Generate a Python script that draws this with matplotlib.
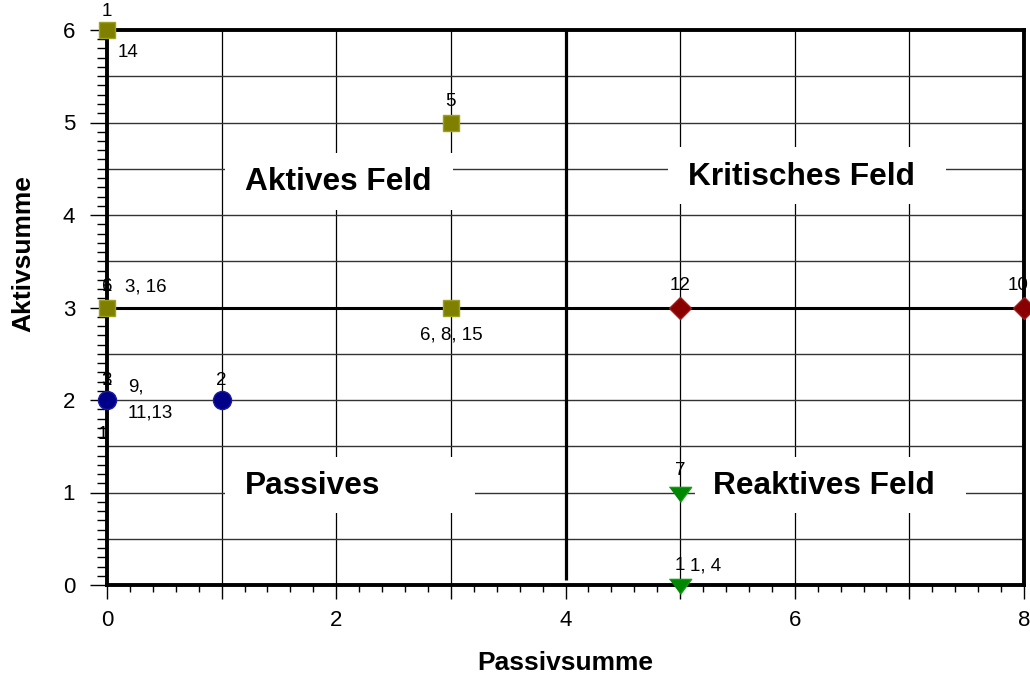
import matplotlib
matplotlib.use('Agg')
import matplotlib.pyplot as plt
import numpy as np
from matplotlib.ticker import MultipleLocator, FuncFormatter
from matplotlib.patches import Rectangle

plt.rcParams['font.family'] = ['Liberation Sans', 'DejaVu Sans']

# ---------------- data ----------------
olive_x = [0, 3, 0, 3]
olive_y = [6, 5, 3, 3]
blue_x = [0, 1]
blue_y = [2, 2]
red_x = [5, 8]
red_y = [3, 3]
green_x = [5, 5]
green_y = [1, 0]

# point labels: (text, x, y)
point_labels = [
    ("14", 0, 6), ("1", 0, 6),
    ("5", 3, 5),
    ("3, 16", 0, 3), ("1", 0, 3), ("6", 0, 3),
    ("6, 8, 15", 3, 3),
    ("9,", 0, 2), ("11,13", 0, 2), ("1", 0, 2), ("3", 0, 2), ("1", 0, 2),
    ("2", 1, 2),
    ("12", 5, 3), ("10", 8, 3),
    ("7", 5, 1),
    ("1, 4", 5, 0), ("1", 5, 0),
]
quadrant_names = ["Aktives Feld", "Kritisches Feld", "Passives", "Reaktives Feld"]
x_label = "Passivsumme"
y_label = "Aktivsumme"

# ---------------- styling / layout ----------------
# offsets (points) and alignment per point label
label_style = [
    (8, -16, 'left'), (0, 13, 'center'),
    (0, 15, 'center'),
    (13, 15, 'left'), (0, 15, 'center'), (0, 15, 'center'),
    (0, -20, 'center'),
    (15, 9, 'left'), (15, -9, 'left'), (0, 14, 'center'), (0, 14, 'center'), (-3, -25, 'center'),
    (0, 14, 'center'),
    (0, 16, 'center'), (-4, 16, 'center'),
    (0, 16, 'center'),
    (7, 14, 'left'), (0, 14, 'center'),
]
# quadrant boxes: (x0, y0, x1, y1) and text anchor (left x, center y)
quad_boxes = [(1.03, 4.05, 3.02, 4.67), (4.89, 4.12, 7.32, 4.74),
              (1.03, 0.78, 3.21, 1.38), (5.13, 0.78, 7.49, 1.38)]
quad_text = [(1.20, 4.36), (5.07, 4.41), (1.20, 1.07), (5.29, 1.07)]

fig = plt.figure(figsize=(10.30, 6.87), dpi=100)
ax = fig.add_axes([107/1030, 102/687, 917/1030, 555/687])
ax.set_xlim(0, 8)
ax.set_ylim(0, 6)

# grid
for gx in range(1, 8):
    if gx != 4:
        ax.axvline(gx, color='black', lw=0.9, zorder=1)
for gy in np.arange(0.5, 6.0, 0.5):
    if gy != 3:
        ax.axhline(gy, color='#333333', lw=1.0, zorder=1)

# divider lines
ax.axhline(3, color='black', lw=2.2, zorder=2)
ax.plot([4, 4], [0.05, 6], color='black', lw=2.3, zorder=2, solid_capstyle='butt')

# quadrant boxes and names
for (x0, y0, x1, y1), (tx, ty), name in zip(quad_boxes, quad_text, quadrant_names):
    ax.add_patch(Rectangle((x0, y0), x1 - x0, y1 - y0, facecolor='white',
                           edgecolor='none', zorder=3))
    ax.text(tx, ty, name, ha='left', va='center', fontsize=22.8,
            fontweight='bold', color='black', zorder=4)

# markers
tri = [(-1, 0.55), (1, 0.55), (0, -0.8)]
ax.plot(olive_x, olive_y, 's', ms=12, color='#808000', mec='#a0a020', mew=1.0,
        clip_on=False, zorder=6)
ax.plot(blue_x, blue_y, 'o', ms=13, color='#000088', mec='#1a1aa0', mew=1.0,
        clip_on=False, zorder=6)
ax.plot(red_x, red_y, 'D', ms=11, color='#880000', mec='#a01a1a', mew=1.0,
        clip_on=False, zorder=6)
ax.plot(green_x, green_y, marker=tri, ls='none', ms=16, color='#008800',
        mec='#1a9a1a', mew=1.0, clip_on=False, zorder=6)

# point labels
for (txt, px, py), (dx, dy, ha) in zip(point_labels, label_style):
    ax.annotate(txt, (px, py), xytext=(dx, dy), textcoords='offset points',
                ha=ha, va='center', fontsize=13.5, color='black',
                annotation_clip=False, zorder=7)

# spines
for s in ax.spines.values():
    s.set_linewidth(2.8)
    s.set_color('black')
    s.set_zorder(5)

# ticks
ax.xaxis.set_major_locator(MultipleLocator(1))
ax.xaxis.set_minor_locator(MultipleLocator(0.2))
ax.xaxis.set_major_formatter(FuncFormatter(lambda v, p: f"{int(round(v))}" if int(round(v)) % 2 == 0 else ""))
ax.yaxis.set_major_locator(MultipleLocator(1))
ax.yaxis.set_minor_locator(MultipleLocator(0.1))
ax.yaxis.set_major_formatter(FuncFormatter(lambda v, p: f"{int(round(v))}"))
ax.tick_params(axis='x', which='major', direction='out', length=10, width=1.0, pad=8, labelsize=16)
ax.tick_params(axis='x', which='minor', direction='out', length=5, width=1.0)
ax.tick_params(axis='y', which='major', direction='out', length=12, width=1.0, pad=11, labelsize=16)
ax.tick_params(axis='y', which='minor', direction='out', length=7, width=1.0)

ax.set_xlabel(x_label, fontsize=19, fontweight='bold', va='center')
ax.xaxis.set_label_coords(0.5, (585 - 663) / 555)
ax.set_ylabel(y_label, fontsize=19, fontweight='bold', va='center')
ax.yaxis.set_label_coords((23 - 107) / 917, 0.597)

fig.savefig('out.png', dpi=100)
